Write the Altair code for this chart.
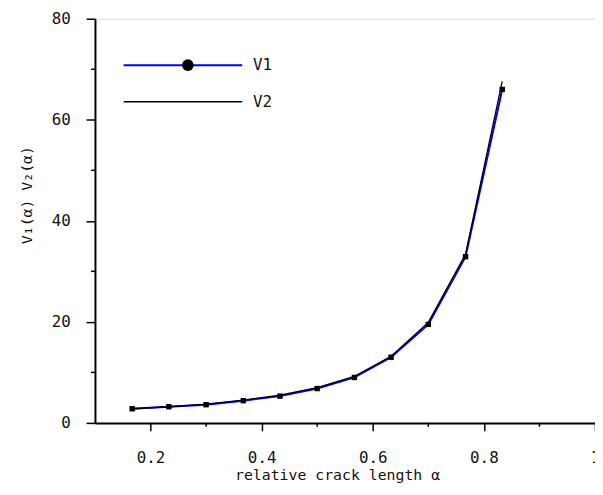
import altair as alt
import pandas as pd

# ---- data ----
alpha = [0.167, 0.233, 0.300, 0.367, 0.433, 0.500, 0.567, 0.633, 0.700, 0.767, 0.833]
v1 = [2.8, 3.2, 3.6, 4.4, 5.3, 6.8, 9.0, 13.0, 19.5, 32.9, 66.0]
v2 = [2.8, 3.2, 3.7, 4.5, 5.5, 7.0, 9.2, 13.2, 19.9, 33.4, 67.6]
x_major = [0.2, 0.4, 0.6, 0.8, 1.0]
x_minor = [0.3, 0.5, 0.7, 0.9]
y_major = [0, 20, 40, 60, 80]
y_minor = [10, 30, 50, 70]
legend_labels = ["V1", "V2"]

FONT = "DejaVu Sans Mono"
TXT = "#111111"

df1 = pd.DataFrame({"x": alpha, "y": v1})
df2 = pd.DataFrame({"x": alpha, "y": v2})
dfxm = pd.DataFrame({"x": x_minor})
dfym = pd.DataFrame({"y": y_minor})
dleg1 = pd.DataFrame({"label": [legend_labels[0]]})
dleg2 = pd.DataFrame({"label": [legend_labels[1]]})

xs = alt.Scale(domain=[0.1, 1.0], nice=False, zero=False)
ys = alt.Scale(domain=[0, 80], nice=False, zero=True)

xaxis = alt.Axis(values=x_major, format=".1~f", tickSize=8, labelPadding=19,
                 grid=False, domainColor="black", domainWidth=2, tickColor="black",
                 tickWidth=1.5, labelFont=FONT, labelFontSize=16, labelColor=TXT,
                 labelFontWeight="normal",
                 titleFont=FONT, titleFontSize=15, titleFontWeight="normal",
                 titleColor=TXT, titleX=245, titleY=57, titleBaseline="alphabetic",
                 labelFlush=False)
yaxis = alt.Axis(values=y_major, tickSize=9, labelPadding=16,
                 grid=False, domainColor="black", domainWidth=2, tickColor="black",
                 tickWidth=1.5, labelFont=FONT, labelFontSize=16, labelColor=TXT,
                 labelFontWeight="normal",
                 titleFont=FONT, titleFontSize=15, titleFontWeight="normal",
                 titleColor=TXT, titleX=-64, titleY=178, titleBaseline="alphabetic",
                 titleAngle=270)

X = alt.X("x:Q", scale=xs, axis=xaxis, title="relative crack length  α")
Y = alt.Y("y:Q", scale=ys, axis=yaxis, title="V₁(α)  V₂(α)")

line1 = alt.Chart(df1).mark_line(color="#0000ff", strokeWidth=2).encode(x=X, y=Y)
line2 = alt.Chart(df2).mark_line(color="black", strokeWidth=1.3).encode(x=X, y=Y)
pts = alt.Chart(df1).mark_square(size=30, color="black", opacity=1).encode(x=X, y=Y)

xminor = alt.Chart(dfxm).mark_rule(color="black", strokeWidth=1.5).encode(
    x=X, y=alt.value(409), y2=alt.value(413))
yminor = alt.Chart(dfym).mark_rule(color="black", strokeWidth=1.5).encode(
    y=Y, x=alt.value(0), x2=alt.value(-4))

# legend (one row per layer so nothing is overdrawn)
leg_line1 = alt.Chart(dleg1).mark_rule(color="#0000ff", strokeWidth=2).encode(
    x=alt.value(29), x2=alt.value(149), y=alt.value(47))
leg_pt1 = alt.Chart(dleg1).mark_circle(color="black", size=140, opacity=1).encode(
    x=alt.value(94), y=alt.value(47))
leg_txt1 = alt.Chart(dleg1).mark_text(font=FONT, fontSize=16, fontWeight="normal",
                                      align="left", baseline="middle", color=TXT).encode(
    x=alt.value(160), y=alt.value(47), text="label:N")
leg_line2 = alt.Chart(dleg2).mark_rule(color="black", strokeWidth=1.6).encode(
    x=alt.value(29), x2=alt.value(149), y=alt.value(84))
leg_txt2 = alt.Chart(dleg2).mark_text(font=FONT, fontSize=16, fontWeight="normal",
                                      align="left", baseline="middle", color=TXT).encode(
    x=alt.value(160), y=alt.value(84), text="label:N")

chart = alt.layer(
    line1, line2, pts, xminor, yminor,
    leg_line1, leg_pt1, leg_txt1, leg_line2, leg_txt2
).properties(
    width=506, height=409,
    autosize=alt.AutoSizeParams(type="none"),
    padding={"left": 88, "top": 8, "right": 0, "bottom": 62},
).configure_view(stroke=None).configure(background="white")

chart.save("out.html", embed_options={"renderer": "svg", "actions": False})
